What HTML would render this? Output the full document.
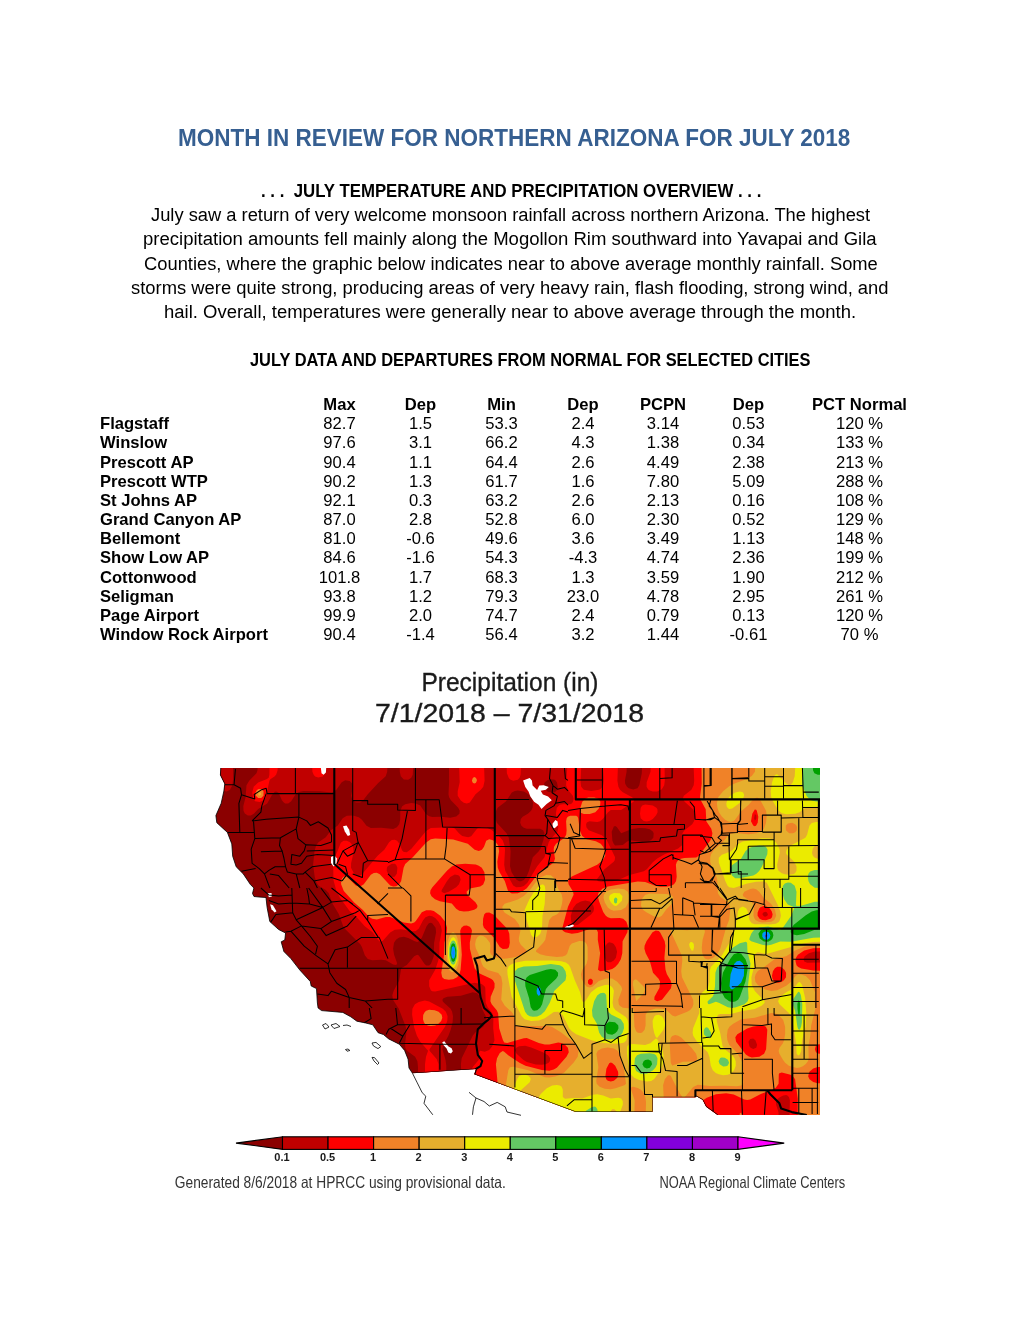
<!DOCTYPE html>
<html lang="en"><head><meta charset="utf-8"><title>Month in Review for Northern Arizona for July 2018</title>
<style>
html,body{margin:0;padding:0;background:#fff;}
#page{position:relative;width:1020px;height:1320px;overflow:hidden;background:#fff;font-family:"Liberation Sans",sans-serif;color:#000;}
.ln{position:absolute;white-space:pre;line-height:1;transform-origin:0 0;}
table.d{position:absolute;left:96px;top:395.1px;table-layout:fixed;width:827.5px;border-collapse:collapse;font-family:"Liberation Sans",sans-serif;font-size:16.6px;line-height:19.17px;}
table.d td,table.d th{padding:0;text-align:center;font-weight:normal;white-space:nowrap;height:19.17px;}
table.d th{font-weight:bold;}
table.d td.n{text-align:left;font-weight:bold;padding-left:4px;}
#mapsvg{position:absolute;left:0;top:660px;}
</style></head>
<body>
<div id="page">
<div class="ln" id="t0" style="left:177.6px;top:125.9px;font-size:24px;font-weight:bold;color:#365F91;transform:scaleX(0.9378)">MONTH IN REVIEW FOR NORTHERN ARIZONA FOR JULY 2018</div>
<div class="ln" id="t1" style="left:260.6px;top:182.0px;font-size:18px;font-weight:bold;color:#000;transform:scaleX(0.9334)">. . .  JULY TEMPERATURE AND PRECIPITATION OVERVIEW . . .</div>
<div class="ln" id="t2" style="left:150.6px;top:205.7px;font-size:18px;font-weight:normal;color:#000;transform:scaleX(1.0171)">July saw a return of very welcome monsoon rainfall across northern Arizona. The highest</div>
<div class="ln" id="t3" style="left:143.2px;top:230.1px;font-size:18px;font-weight:normal;color:#000;transform:scaleX(1.0293)">precipitation amounts fell mainly along the Mogollon Rim southward into Yavapai and Gila</div>
<div class="ln" id="t4" style="left:143.8px;top:254.5px;font-size:18px;font-weight:normal;color:#000;transform:scaleX(1.0186)">Counties, where the graphic below indicates near to above average monthly rainfall. Some</div>
<div class="ln" id="t5" style="left:131.2px;top:278.9px;font-size:18px;font-weight:normal;color:#000;transform:scaleX(1.0218)">storms were quite strong, producing areas of very heavy rain, flash flooding, strong wind, and</div>
<div class="ln" id="t6" style="left:164.4px;top:303.2px;font-size:18px;font-weight:normal;color:#000;transform:scaleX(1.0263)">hail. Overall, temperatures were generally near to above average through the month.</div>
<div class="ln" id="t7" style="left:250.4px;top:350.8px;font-size:18px;font-weight:bold;color:#000;transform:scaleX(0.9108)">JULY DATA AND DEPARTURES FROM NORMAL FOR SELECTED CITIES</div>
<table class="d"><colgroup><col style="width:203.5px"><col style="width:80.0px"><col style="width:82.0px"><col style="width:80.0px"><col style="width:83.0px"><col style="width:77.0px"><col style="width:94.0px"><col style="width:128.0px"></colgroup>
<tr><th></th><th>Max</th><th>Dep</th><th>Min</th><th>Dep</th><th>PCPN</th><th>Dep</th><th>PCT Normal</th></tr>
<tr><td class="n">Flagstaff</td><td>82.7</td><td>1.5</td><td>53.3</td><td>2.4</td><td>3.14</td><td>0.53</td><td>120 %</td></tr>
<tr><td class="n">Winslow</td><td>97.6</td><td>3.1</td><td>66.2</td><td>4.3</td><td>1.38</td><td>0.34</td><td>133 %</td></tr>
<tr><td class="n">Prescott AP</td><td>90.4</td><td>1.1</td><td>64.4</td><td>2.6</td><td>4.49</td><td>2.38</td><td>213 %</td></tr>
<tr><td class="n">Prescott WTP</td><td>90.2</td><td>1.3</td><td>61.7</td><td>1.6</td><td>7.80</td><td>5.09</td><td>288 %</td></tr>
<tr><td class="n">St Johns AP</td><td>92.1</td><td>0.3</td><td>63.2</td><td>2.6</td><td>2.13</td><td>0.16</td><td>108 %</td></tr>
<tr><td class="n">Grand Canyon AP</td><td>87.0</td><td>2.8</td><td>52.8</td><td>6.0</td><td>2.30</td><td>0.52</td><td>129 %</td></tr>
<tr><td class="n">Bellemont</td><td>81.0</td><td>-0.6</td><td>49.6</td><td>3.6</td><td>3.49</td><td>1.13</td><td>148 %</td></tr>
<tr><td class="n">Show Low AP</td><td>84.6</td><td>-1.6</td><td>54.3</td><td>-4.3</td><td>4.74</td><td>2.36</td><td>199 %</td></tr>
<tr><td class="n">Cottonwood</td><td>101.8</td><td>1.7</td><td>68.3</td><td>1.3</td><td>3.59</td><td>1.90</td><td>212 %</td></tr>
<tr><td class="n">Seligman</td><td>93.8</td><td>1.2</td><td>79.3</td><td>23.0</td><td>4.78</td><td>2.95</td><td>261 %</td></tr>
<tr><td class="n">Page Airport</td><td>99.9</td><td>2.0</td><td>74.7</td><td>2.4</td><td>0.79</td><td>0.13</td><td>120 %</td></tr>
<tr><td class="n">Window Rock Airport</td><td>90.4</td><td>-1.4</td><td>56.4</td><td>3.2</td><td>1.44</td><td>-0.61</td><td>70 %</td></tr>
</table>
<svg id="mapsvg" width="1020" height="560" viewBox="0 660 1020 560">
<defs><clipPath id="land"><path d="M220.8,768.0 220.4,775.0 224.8,783.9 223.9,791.0 221.2,803.3 215.9,815.6 216.8,822.7 227.4,832.4 231.8,843.9 232.7,856.2 236.2,866.8 243.3,873.9 250.4,884.5 253.9,888.0 252.5,893.5 254.0,896.5 259.0,897.0 266.0,897.5 267.1,907.4 269.8,921.5 278.6,929.5 285.6,933.0 284.8,940.0 281.2,941.8 283.9,951.5 290.9,958.6 299.8,970.0 310.3,981.5 311.2,986.0 316.5,988.6 317.4,1003.0 318.1,1008.0 321.6,1010.6 342.8,1012.4 350.8,1016.8 356.9,1021.2 365.8,1023.0 372.8,1024.8 378.1,1032.7 383.4,1034.5 388.7,1038.9 399.3,1044.2 404.6,1050.4 408.1,1059.2 409.0,1068.0 412.5,1073.3 476.0,1068.9 474.3,1074.3 575.3,1111.7 630.0,1111.7 652.5,1111.7 652.5,1097.2 695.4,1097.2 696.5,1096.2 702.6,1099.8 706.2,1106.8 717.6,1115.0 820.0,1115.0 820.0,768.0z"/></clipPath></defs>
<g clip-path="url(#land)">
<rect x="208" y="768" width="612" height="348" fill="#8b0000"/>
<path fill="#c00000" d="M226.8,791.6 222.2,790.8 220.8,789.4 219.2,786.5 218.7,780.8 219.3,764.2 233.0,764.2 233.1,779.2 232.4,785.2 230.0,789.8zM250.8,815.6 247.8,815.6 244.8,813.6 243.5,810.8 243.3,806.2 245.6,797.2 246.5,785.2 249.2,780.8 256.5,773.2 257.5,770.2 257.7,764.2 387.5,764.2 387.2,771.8 385.7,776.2 378.2,783.0 367.8,794.3 363.2,800.2 360.2,802.4 355.8,802.5 352.5,800.2 351.2,795.8 352.9,786.8 352.4,783.8 349.8,781.0 345.2,780.3 341.7,782.2 336.2,790.1 331.8,792.4 319.8,791.3 303.2,791.1 298.8,791.9 295.6,794.2 291.2,801.3 288.2,803.4 285.2,803.4 283.8,802.6 281.9,800.2 278.6,792.8 276.2,791.4 274.8,791.8 271.8,795.2 267.2,803.4 258.2,809.0 253.8,813.8zM408.2,779.7 403.8,779.4 400.8,776.2 399.8,771.8 399.6,764.2 413.4,764.2 412.7,774.8 411.2,777.8zM823.8,1120.2 589.8,1120.5 461.5,1119.8 461.6,1077.8 460.9,1064.2 461.7,1058.2 472.8,1035.5 475.8,1031.9 483.2,1026.8 485.0,1023.8 486.3,1019.2 485.8,1016.2 482.0,1008.8 479.0,995.2 477.2,993.3 472.8,992.2 460.8,995.7 447.2,996.8 443.4,998.2 442.4,999.8 442.7,1001.2 444.0,1002.8 450.6,1008.8 452.1,1011.8 453.0,1016.2 452.6,1022.2 450.7,1029.8 448.4,1035.8 443.5,1044.8 442.4,1049.2 445.5,1059.8 446.3,1065.8 446.1,1119.8 417.7,1119.8 418.0,1067.2 417.4,1061.2 415.1,1056.8 407.0,1050.8 405.3,1047.8 405.1,1043.2 406.4,1032.8 405.8,1026.8 398.8,1008.8 393.0,999.8 392.3,995.2 393.7,990.8 399.2,980.4 401.2,968.2 406.8,964.9 414.2,956.2 417.2,954.7 418.8,955.4 424.4,963.8 426.2,965.4 429.2,965.5 431.0,963.8 433.8,956.2 434.1,942.8 436.1,932.2 435.6,927.8 432.2,923.2 430.8,922.7 428.8,923.2 426.6,926.2 421.8,937.7 418.8,941.2 417.2,941.9 414.2,941.1 408.2,937.9 403.8,936.8 399.2,937.5 396.2,939.4 394.0,942.8 393.1,948.8 394.1,954.8 396.8,962.2 397.0,963.8 396.2,965.1 393.2,964.6 385.8,960.3 381.2,959.7 372.2,960.2 367.8,958.9 364.8,955.3 362.0,947.2 360.3,944.2 345.4,929.2 343.2,926.2 338.9,914.2 332.6,903.8 328.8,893.2 325.8,890.0 318.7,885.8 316.5,882.8 314.7,876.8 313.1,864.8 314.5,851.2 316.2,845.2 318.5,842.2 325.8,837.3 330.9,830.2 337.8,825.4 342.7,818.2 346.8,815.8 352.8,815.5 358.8,817.3 361.9,819.8 366.5,825.8 370.8,828.1 381.2,827.8 393.2,828.9 396.9,827.2 399.2,824.2 400.2,819.8 400.3,810.8 402.2,806.3 405.2,804.2 411.2,803.0 415.8,803.5 420.2,805.5 426.2,814.2 429.2,816.3 432.2,817.0 441.2,816.8 450.2,817.7 456.2,816.6 459.4,813.8 459.7,810.8 458.2,807.8 450.9,800.2 449.1,797.2 448.5,794.2 449.1,782.2 449.0,764.2 626.8,764.2 626.6,771.8 624.9,780.8 625.2,783.8 626.9,786.8 628.7,788.2 633.2,789.6 637.5,788.2 639.3,785.2 641.8,773.2 642.1,764.2 823.8,763.5 824.5,764.2 824.6,918.8 823.9,956.2 824.2,1119.8zM553.0,792.8 555.2,792.1 557.2,789.8 557.8,786.8 556.9,782.2 555.2,780.1 553.8,779.4 550.8,779.2 547.8,780.0 544.8,782.2 544.1,783.8 544.2,788.2 547.8,791.8zM521.0,881.2 523.8,880.1 526.5,876.8 529.0,870.8 532.8,857.3 538.8,851.2 540.7,848.2 543.6,839.2 544.4,833.2 543.1,830.2 540.2,828.7 526.8,828.8 523.8,827.8 521.4,825.8 520.2,822.8 520.8,819.1 522.7,816.8 528.2,813.5 531.1,810.8 532.6,807.8 533.0,803.2 532.0,798.8 528.2,794.0 523.8,791.4 517.8,790.5 514.8,790.9 511.8,792.5 505.8,801.4 497.6,807.8 495.4,812.2 494.9,816.8 496.8,822.8 506.5,833.2 508.8,837.8 510.6,851.2 510.0,866.2 511.6,872.2 516.2,879.5 519.2,881.2zM619.2,845.2 622.8,844.9 627.2,841.5 630.2,840.3 642.2,842.1 648.2,841.6 651.2,840.1 653.3,837.8 653.7,833.2 652.8,831.4 649.8,829.3 645.2,828.2 639.2,827.9 631.8,828.9 621.2,833.3 616.8,826.9 615.2,825.9 613.8,826.4 611.7,831.8 612.4,840.8 613.8,844.0 615.2,845.5z"/>
<path fill="#ff0000" d="M259.8,801.9 255.2,801.3 253.3,798.8 252.2,792.8 253.7,786.8 258.2,782.5 266.5,779.2 268.7,777.8 269.4,774.8 269.6,764.2 277.7,764.2 277.6,770.2 276.2,774.5 274.8,776.3 270.3,779.2 269.4,780.8 265.9,797.2 263.5,800.2zM322.8,776.5 318.2,777.4 315.2,776.4 313.8,775.0 312.4,771.8 312.2,764.2 324.6,764.2 324.4,773.2zM466.8,803.5 463.8,802.7 460.8,800.6 457.7,795.8 457.7,791.2 459.7,782.2 459.1,764.2 484.0,764.2 484.6,780.8 483.3,786.8 480.8,789.8 475.5,794.2 469.8,802.4zM517.8,779.7 513.2,780.7 510.2,779.6 508.8,778.1 506.9,773.2 506.5,764.2 521.1,764.2 520.6,774.8 519.6,777.8zM823.8,1120.0 789.4,1119.8 789.9,1100.2 789.0,1097.2 787.8,1095.7 786.2,1095.0 783.2,1095.4 779.8,1097.2 777.2,1099.4 775.9,1101.8 776.1,1104.8 778.5,1112.2 778.7,1119.8 591.2,1120.3 470.7,1119.8 470.5,1077.8 471.4,1070.2 472.8,1066.9 478.8,1059.8 479.2,1052.2 480.1,1050.8 484.8,1051.7 489.2,1050.0 492.3,1046.2 494.5,1040.2 493.2,1028.2 493.4,1016.2 492.3,1013.2 487.7,1007.2 485.7,1002.8 485.3,987.8 484.5,986.2 481.8,984.1 474.2,982.8 435.2,991.4 432.2,991.3 430.8,990.2 429.2,986.2 429.2,980.2 435.2,969.7 438.2,960.8 439.4,954.8 439.5,942.8 441.8,930.8 441.0,926.2 438.6,921.8 435.2,918.0 432.2,916.2 429.2,915.7 425.5,917.2 423.1,920.2 418.8,928.6 415.8,931.0 412.8,931.3 400.8,929.3 394.8,929.8 390.2,932.4 382.8,940.7 381.2,941.5 379.8,941.4 378.2,940.1 372.5,932.2 364.8,926.2 357.2,917.7 349.8,911.3 339.9,897.8 336.2,890.2 333.4,879.8 333.2,861.8 333.8,858.8 337.5,851.2 340.8,842.7 343.6,840.8 346.8,840.7 350.0,842.2 352.4,845.2 353.3,848.2 353.5,852.8 351.1,863.2 351.0,867.8 354.2,873.7 357.2,876.1 358.8,876.4 361.8,874.6 377.6,855.8 384.3,849.8 389.1,842.2 391.8,840.1 394.8,839.7 397.1,840.8 399.2,843.6 402.2,850.5 403.8,852.0 406.8,852.3 411.2,849.1 426.2,830.9 430.8,828.0 451.9,827.2 454.8,828.4 459.2,833.6 462.2,835.9 468.2,837.2 471.2,836.2 477.2,828.4 481.8,826.9 486.2,827.3 490.8,829.6 498.2,835.2 502.8,840.6 504.4,845.2 505.0,849.8 504.2,864.8 505.2,870.8 513.2,885.4 516.2,887.3 520.8,887.1 523.8,885.9 527.4,882.8 537.2,866.2 544.5,857.2 548.7,842.2 550.8,839.1 557.5,831.8 558.3,827.2 555.9,813.8 556.8,807.7 559.8,804.8 562.8,804.2 570.2,804.2 571.8,803.5 573.0,801.8 573.6,798.8 572.8,795.8 567.9,789.8 566.1,785.2 567.5,764.2 581.3,764.2 580.6,782.2 581.2,786.8 583.8,789.8 591.2,791.1 599.2,789.8 601.4,788.2 603.2,785.2 603.8,780.8 602.8,764.2 618.0,764.2 617.4,780.8 618.4,786.8 620.0,789.8 622.8,792.2 632.1,797.2 633.6,798.8 634.1,800.2 633.5,801.8 621.2,810.1 610.8,810.1 607.8,812.5 603.2,818.5 600.2,821.2 597.2,822.0 589.5,821.2 586.8,822.6 586.1,824.2 586.4,827.2 588.7,830.2 601.8,835.3 606.2,839.1 615.1,857.2 614.7,860.2 613.7,861.8 604.5,869.2 596.5,879.8 598.4,881.2 601.8,881.7 613.0,881.2 618.9,879.8 628.8,875.3 643.8,871.3 646.8,869.2 652.8,862.2 657.2,858.5 664.7,854.2 678.2,848.5 682.0,845.2 682.8,842.2 682.1,836.2 682.5,833.2 684.5,830.2 692.2,824.2 694.0,821.2 694.9,818.2 695.0,813.8 693.2,809.4 684.7,801.8 682.8,798.8 683.8,795.8 691.4,789.8 693.7,785.2 694.2,780.8 693.5,764.2 823.8,763.6 824.4,764.2 824.4,918.8 823.8,951.4 814.8,951.6 808.9,953.2 804.7,956.2 803.5,959.2 804.2,961.4 807.2,962.8 823.8,962.5zM657.2,791.4 652.8,791.4 649.8,790.4 648.2,789.4 646.6,786.8 646.7,782.2 650.5,771.8 650.8,764.2 664.5,764.2 664.8,780.8 664.2,785.2 661.8,789.2zM646.8,821.4 643.8,820.9 640.7,818.2 640.0,813.8 640.7,807.8 642.2,805.6 645.2,804.6 652.8,805.5 656.4,807.8 657.4,809.2 657.6,812.2 656.1,815.2 652.8,818.9 649.8,820.7zM755.7,819.8 756.4,818.2 756.3,815.2 754.8,813.9 754.1,818.2 754.8,820.5zM394.6,876.8 396.8,873.8 397.4,867.8 396.1,864.8 394.8,863.8 391.8,863.7 387.7,866.2 386.9,867.8 386.7,870.8 388.0,873.8 390.2,876.2 391.8,877.0zM448.7,891.8 456.2,887.3 459.0,884.2 460.6,879.8 459.9,876.8 458.4,875.2 454.8,874.6 450.2,877.1 446.9,881.2 441.6,890.2 441.6,891.8 444.2,893.2zM578.0,924.8 591.3,914.2 593.6,911.2 594.0,908.2 593.2,905.2 589.8,901.5 585.2,900.5 580.8,901.4 576.2,904.0 573.0,908.2 570.8,915.8 571.2,921.8 573.2,924.7 574.8,925.2zM767.4,915.8 767.9,914.2 766.8,912.3 765.2,911.7 763.0,912.8 762.4,914.2 763.8,916.3 765.2,916.7zM610.8,962.2 613.8,960.6 615.9,957.8 617.1,951.8 615.9,947.2 613.8,944.1 612.2,942.9 609.2,942.3 607.8,942.9 605.4,945.8 604.6,948.8 604.4,954.8 604.8,957.8 606.2,961.1 607.8,962.2zM436.8,1119.8 425.1,1119.8 425.0,1064.2 426.0,1056.8 428.1,1050.8 420.3,1041.8 416.9,1035.8 414.2,1027.6 412.1,1014.8 412.4,1008.8 414.9,1004.2 418.8,1002.0 424.8,1000.5 429.2,1001.4 442.8,1008.8 445.9,1011.8 447.6,1016.2 447.3,1020.8 445.0,1026.8 429.5,1049.2 429.5,1050.8 436.8,1059.2 438.5,1064.2 438.1,1119.8zM756.3,1047.8 757.1,1044.8 755.4,1040.2 753.2,1038.5 750.2,1039.1 748.5,1041.8 749.4,1046.2 750.6,1047.8 753.2,1049.0zM545.7,1064.2 548.6,1062.8 549.8,1061.2 550.2,1058.2 548.0,1055.2 542.9,1052.2 531.2,1047.4 525.2,1045.8 519.2,1046.3 516.3,1047.8 515.1,1049.2 515.0,1050.8 516.6,1053.8 523.2,1059.8 526.8,1061.9 535.8,1064.4 541.8,1064.8z"/>
<path fill="#f08228" d="M823.8,1119.8 797.7,1119.8 797.8,1098.8 795.1,1079.2 792.9,1076.2 790.6,1074.8 781.8,1072.6 779.3,1073.2 778.8,1074.2 778.6,1083.8 775.8,1087.7 772.3,1089.8 760.8,1094.0 750.2,1099.4 747.2,1099.9 744.2,1099.5 733.8,1094.5 726.2,1093.2 716.0,1094.2 706.8,1097.7 703.1,1100.2 700.8,1104.5 700.0,1109.2 699.8,1119.8 497.7,1119.8 497.4,1080.8 495.9,1064.2 497.0,1058.2 499.8,1053.0 502.8,1051.0 504.2,1051.7 508.2,1055.2 519.5,1062.8 525.5,1065.8 541.8,1070.1 549.2,1070.7 553.8,1069.5 556.8,1067.7 566.5,1056.8 568.8,1052.2 567.9,1047.8 565.0,1044.8 561.2,1042.9 558.2,1042.5 549.2,1044.5 544.8,1044.5 538.8,1043.1 526.8,1038.0 523.8,1038.3 507.2,1043.1 504.2,1042.6 502.8,1039.8 499.2,1028.2 498.1,1013.2 496.7,1010.2 491.7,1004.2 490.4,1001.2 490.7,996.8 494.5,987.8 494.6,983.2 493.0,980.2 491.0,978.8 478.0,972.8 474.6,968.2 469.9,948.8 469.8,942.8 472.0,930.8 471.2,928.4 469.8,926.8 466.8,925.5 463.8,925.8 461.4,927.8 460.2,930.8 461.8,954.8 460.6,969.8 459.4,974.2 457.1,977.2 453.2,979.3 448.8,979.7 444.2,979.0 442.2,977.2 441.3,972.8 443.9,956.2 444.4,942.8 446.8,932.2 447.1,927.8 445.2,921.8 440.3,915.8 433.8,911.0 430.8,910.2 426.2,910.3 421.8,912.3 415.8,921.0 414.2,922.4 411.2,923.5 403.8,922.4 390.2,916.9 385.8,917.0 376.8,919.5 372.2,918.8 369.2,916.9 362.6,909.8 354.2,902.5 343.8,890.9 341.1,884.2 341.1,881.2 342.2,878.2 343.8,876.6 346.8,876.6 355.8,885.5 360.2,886.4 363.8,884.2 370.8,874.7 373.8,872.9 376.8,872.7 379.8,874.3 390.2,885.4 393.2,886.5 396.2,886.2 399.2,884.3 401.1,881.2 403.6,867.8 405.2,864.1 412.8,857.3 426.2,842.5 430.8,839.2 435.2,838.4 453.2,839.5 467.8,843.8 474.7,849.8 478.8,851.0 481.9,849.8 484.0,846.8 486.2,840.7 489.2,839.3 492.2,839.9 495.2,841.6 498.2,845.5 499.1,851.2 497.3,861.8 497.8,867.8 499.6,872.2 504.9,881.2 507.8,890.2 508.9,891.8 511.8,893.4 517.8,893.2 522.2,891.4 526.8,888.3 538.8,872.7 543.2,869.1 550.9,864.8 553.8,862.1 555.0,858.8 553.7,849.8 554.1,846.8 556.1,843.8 564.2,838.1 566.2,834.8 566.6,830.2 566.1,821.2 566.7,818.2 567.8,816.8 570.2,815.7 576.2,815.8 577.6,816.8 578.2,818.2 579.8,830.2 582.2,835.9 586.6,839.2 595.8,841.2 600.7,843.8 603.1,846.8 604.5,849.8 605.3,855.8 602.8,860.2 597.2,864.7 571.8,876.4 568.8,879.1 568.1,881.2 568.6,884.2 573.1,891.8 573.6,894.8 568.0,906.8 562.0,929.2 562.9,930.8 565.2,932.2 571.8,933.7 577.8,933.0 591.2,928.5 594.2,928.4 596.5,929.2 597.9,932.2 597.8,939.8 600.1,953.2 598.0,969.8 600.2,971.3 607.8,970.3 612.2,968.9 615.2,967.1 618.2,963.8 620.8,959.2 622.3,953.2 622.6,941.2 627.4,932.2 627.9,926.2 626.4,921.8 623.2,918.8 619.8,918.1 610.8,918.2 607.8,917.3 605.8,915.8 603.2,911.9 598.9,900.8 597.8,896.2 598.3,893.2 602.3,888.8 607.8,886.4 637.8,881.6 645.2,881.9 655.2,885.8 660.2,886.8 666.2,886.8 671.3,885.8 674.0,884.2 676.0,881.2 676.7,876.8 675.9,864.8 676.8,861.9 678.2,860.2 680.8,858.8 684.2,857.9 696.2,857.5 699.2,855.5 710.1,840.8 711.6,837.8 712.4,833.2 711.3,828.8 706.3,821.2 705.7,809.2 700.8,800.2 700.0,797.2 701.7,783.8 701.5,764.2 823.8,763.7 824.3,764.2 824.3,918.8 823.8,947.9 813.2,948.2 804.2,950.5 797.9,954.8 796.0,957.8 795.4,960.8 796.5,965.2 798.2,967.0 801.2,968.6 813.2,970.5 823.8,970.9 823.8,1044.0 817.8,1044.4 815.7,1046.2 814.9,1049.2 816.0,1052.2 817.8,1053.5 823.8,1053.9 823.8,1067.0 817.8,1067.1 813.2,1068.5 809.4,1071.8 808.1,1076.2 809.5,1079.2 813.2,1082.0 817.8,1083.2 823.8,1083.3zM475.8,783.1 474.2,783.6 472.8,782.8 471.9,780.8 472.8,778.1 474.2,777.1 475.8,777.8 476.7,779.2 476.9,780.8zM261.2,798.0 258.2,798.1 255.8,795.8 255.5,792.8 256.8,790.3 258.2,789.2 261.2,789.0 263.5,791.2 263.5,795.8zM589.8,813.9 583.8,814.0 580.8,812.7 580.4,807.8 582.3,801.8 585.2,798.8 588.2,797.6 594.2,797.5 598.4,798.8 600.4,801.8 600.2,804.8 598.8,808.4 595.3,812.2zM756.0,825.8 757.7,822.8 758.3,816.8 756.8,810.8 756.2,809.8 754.8,809.4 752.3,813.8 751.0,821.2 753.2,825.5 754.8,826.3zM468.5,911.2 474.2,909.7 476.7,908.2 477.4,906.8 477.3,905.2 475.4,902.2 467.1,894.8 466.6,891.8 469.8,888.4 480.2,886.4 483.2,884.4 485.1,879.8 484.4,872.2 481.8,867.7 478.8,865.7 475.8,864.6 465.2,863.7 456.2,864.4 451.8,866.4 447.2,870.5 432.4,887.2 430.5,890.2 430.1,893.2 431.5,896.2 435.0,899.2 439.8,901.2 451.8,903.6 456.2,908.7 459.2,910.7 463.8,911.6zM765.8,920.2 770.6,918.8 772.0,917.2 772.6,914.2 771.7,911.2 769.8,908.5 766.8,906.5 763.8,905.9 760.8,907.0 759.2,908.6 757.6,912.8 757.6,915.8 759.6,918.8 762.2,919.9zM507.2,948.8 508.9,947.2 509.8,942.8 509.3,933.8 507.7,929.2 493.8,914.7 489.2,912.5 486.0,912.8 484.3,914.2 483.1,918.8 482.9,924.8 483.9,927.8 493.8,937.5 499.8,947.1 502.8,948.9zM662.0,999.8 670.8,988.5 671.7,984.8 670.8,980.8 666.9,974.2 665.5,969.8 664.4,957.8 665.4,945.8 664.7,941.2 660.2,932.5 658.8,931.1 655.8,930.4 652.5,932.2 646.5,941.2 644.6,945.8 644.4,948.8 645.7,953.2 649.8,961.0 653.0,972.8 658.6,978.8 660.1,981.8 659.5,987.8 654.5,996.8 654.3,999.8 657.2,1001.2zM781.8,981.8 783.9,980.2 786.0,977.2 786.1,972.8 784.4,969.8 781.8,967.4 780.2,966.8 777.2,966.7 774.9,968.2 772.9,971.2 772.0,975.8 772.5,978.8 774.2,981.5 775.8,982.4 778.8,982.7zM591.3,984.8 592.7,983.2 592.8,980.2 591.2,978.7 589.8,978.8 588.1,980.2 587.9,983.2 589.8,984.9zM435.2,1025.5 430.8,1026.1 427.8,1025.6 424.9,1023.8 423.9,1022.2 423.0,1019.2 423.2,1015.1 424.8,1012.0 426.2,1010.7 429.2,1009.7 434.7,1010.2 438.6,1011.8 441.7,1014.8 442.3,1017.8 441.2,1021.1 438.2,1024.1zM759.4,1056.8 764.1,1053.8 766.1,1049.2 767.3,1029.8 765.9,1026.8 763.8,1025.7 760.8,1025.4 753.2,1026.4 747.2,1028.5 737.3,1034.2 735.3,1037.2 736.1,1041.8 745.8,1054.4 748.8,1056.5 751.8,1057.4zM613.9,1080.8 617.3,1077.8 618.3,1074.8 618.1,1071.8 615.2,1065.7 612.2,1062.9 610.8,1062.4 609.2,1063.3 606.4,1068.8 605.4,1076.2 606.2,1079.2 607.8,1080.8 610.8,1081.5zM741.2,1119.8 739.5,1119.8 739.7,1113.8 741.2,1112.6 742.0,1115.2 742.0,1119.8z"/>
<path fill="#e6af2d" d="M663.2,1119.8 645.6,1119.8 646.0,1101.8 645.0,1095.8 643.6,1092.8 640.9,1089.8 637.8,1087.9 633.2,1086.7 631.8,1086.9 630.6,1088.2 634.7,1100.2 634.3,1119.8 505.3,1119.8 505.6,1086.8 508.3,1070.2 509.9,1067.2 513.2,1066.7 528.3,1070.2 544.8,1077.3 549.2,1077.4 555.2,1076.5 560.4,1074.8 564.2,1072.5 573.5,1062.8 577.7,1056.8 578.6,1050.8 577.0,1046.2 573.0,1041.8 561.2,1032.4 552.2,1027.0 547.8,1026.1 517.8,1026.1 515.5,1025.2 514.8,1018.8 513.2,1014.1 511.5,1011.8 504.8,1005.8 501.2,999.8 502.4,983.2 501.2,976.8 498.2,973.1 487.8,970.1 483.4,966.8 481.8,963.8 479.6,956.2 475.8,948.3 475.1,944.2 475.9,939.8 477.7,936.8 480.2,935.5 483.2,936.1 486.2,937.9 489.9,942.8 490.4,945.8 490.0,951.8 490.8,954.2 493.4,956.2 498.2,957.9 504.2,958.7 511.8,957.8 518.7,956.2 525.7,953.2 526.9,951.8 526.3,950.2 520.8,944.8 519.0,941.2 518.8,938.2 520.4,930.8 519.1,924.8 514.8,918.9 504.7,912.8 502.8,909.8 502.3,906.8 504.6,903.8 517.8,899.5 523.8,896.0 529.8,890.3 537.2,880.2 540.2,877.4 546.2,875.0 550.8,875.3 554.4,878.2 558.2,888.7 561.8,894.8 562.6,899.2 562.0,903.8 560.3,909.8 558.7,912.8 556.8,914.4 552.2,916.4 549.2,920.1 545.3,939.8 543.2,942.8 536.2,950.2 536.0,951.8 540.2,954.3 546.2,955.8 556.8,957.0 562.8,956.6 565.8,955.3 567.2,953.6 569.8,945.8 571.8,943.5 579.2,941.1 583.2,941.2 585.2,942.3 586.7,944.2 587.6,947.2 587.7,959.2 586.6,963.8 582.2,969.9 581.0,974.2 581.7,978.8 583.8,983.2 586.8,986.7 589.8,987.5 592.8,986.5 598.8,980.9 606.2,978.4 612.2,978.6 617.2,981.8 621.2,986.2 622.2,989.2 618.3,999.8 618.8,1004.2 619.8,1005.8 622.8,1007.7 633.6,1008.8 634.5,1026.8 636.1,1031.2 637.8,1032.7 640.8,1033.1 642.2,1032.5 644.6,1029.8 645.6,1025.2 645.6,1014.8 647.5,1011.8 649.8,1010.2 655.8,1008.6 663.2,1008.8 666.7,1010.2 672.2,1015.5 675.2,1016.6 687.2,1011.8 690.2,1009.9 692.4,1007.2 693.4,1004.2 693.2,1000.1 682.0,977.2 681.2,971.2 682.3,960.8 682.1,956.2 671.8,933.8 671.0,930.8 671.5,929.2 673.8,928.0 675.2,928.0 682.8,930.0 687.2,930.3 700.8,928.6 703.8,928.9 704.9,930.8 704.8,932.2 702.6,939.8 701.8,947.2 702.0,951.8 703.3,956.2 705.2,958.8 708.2,959.6 712.8,958.0 716.9,954.8 720.3,948.8 725.6,929.2 729.2,919.4 730.2,909.8 729.5,905.2 727.9,902.2 720.2,896.8 717.9,893.2 717.2,879.6 715.8,875.0 711.5,866.2 710.2,861.8 710.3,857.2 711.1,854.2 714.2,849.4 722.7,842.2 727.8,836.0 730.8,833.7 735.2,833.1 748.8,834.2 756.5,833.2 760.8,831.5 763.8,828.9 766.0,822.8 766.7,815.2 766.0,810.8 760.8,801.0 757.8,797.8 756.2,797.7 753.2,799.5 748.7,804.8 741.2,811.2 735.2,819.5 733.8,820.9 730.8,822.1 727.8,821.3 724.8,819.4 721.8,816.6 718.9,812.2 717.4,807.8 716.9,803.2 718.2,797.2 723.1,791.2 729.2,786.3 735.2,783.2 746.3,779.2 751.8,776.0 754.9,771.8 755.4,764.2 823.8,763.8 823.8,944.9 813.2,945.1 804.2,946.8 795.7,950.2 786.2,956.3 778.8,957.7 774.4,959.2 765.2,966.3 757.8,971.1 755.7,974.2 754.8,977.6 755.4,981.8 757.8,985.0 765.2,989.4 771.2,991.1 777.2,990.2 786.2,985.8 790.8,982.1 795.7,975.8 798.2,974.3 801.2,974.4 805.8,976.0 810.0,980.2 815.0,992.2 814.6,1001.2 815.4,1008.8 811.2,1025.2 810.3,1035.8 808.4,1046.2 808.7,1058.2 807.9,1061.2 805.8,1064.0 802.8,1066.3 799.8,1067.6 796.8,1067.9 788.9,1065.8 785.1,1062.8 782.9,1059.8 779.4,1053.8 778.6,1050.8 779.6,1047.8 782.9,1043.2 784.1,1040.2 785.1,1034.2 785.1,1026.8 783.2,1020.1 778.5,1014.8 775.0,1013.2 771.2,1013.0 754.8,1017.7 741.2,1019.3 733.2,1023.8 729.4,1026.8 727.7,1029.8 726.9,1035.8 727.4,1040.2 729.2,1044.8 737.7,1053.8 741.9,1061.2 742.8,1065.8 742.3,1074.8 743.3,1082.2 742.8,1084.1 741.2,1085.5 736.8,1086.2 724.8,1085.7 709.8,1086.1 697.8,1084.7 693.2,1087.0 685.8,1095.9 684.2,1097.3 682.8,1097.4 679.8,1093.4 670.8,1075.9 669.2,1074.9 667.8,1075.4 664.8,1079.3 663.1,1085.2 664.0,1103.2 663.8,1119.8zM261.2,794.5 259.8,795.7 258.2,794.9 258.2,792.8 259.8,792.1 261.0,792.8zM793.0,833.2 795.2,832.2 796.8,830.2 797.0,827.2 796.5,825.8 795.2,824.2 792.2,822.8 787.8,823.5 785.7,825.8 785.9,830.2 789.2,833.2zM621.2,910.0 613.8,910.7 610.8,909.8 607.8,907.5 604.8,902.6 603.5,897.8 603.9,894.8 606.1,891.8 610.8,889.4 618.2,888.4 624.2,889.3 627.8,891.8 629.4,896.2 628.5,902.2 625.8,907.2zM771.2,921.8 774.2,920.1 776.2,915.8 775.0,909.8 771.2,904.0 763.6,897.8 759.2,891.7 756.2,889.3 753.2,888.6 750.2,888.9 744.3,891.8 742.7,894.8 743.2,896.2 751.8,902.2 753.2,904.2 753.8,906.8 753.5,915.8 754.6,918.8 755.8,920.2 758.8,921.8 762.2,922.4zM658.8,917.4 654.2,916.6 646.8,912.6 643.8,910.6 641.9,908.2 641.0,905.2 641.4,900.8 642.7,897.8 645.3,894.8 649.8,893.4 666.2,894.1 670.3,894.8 672.5,896.2 673.4,899.2 671.9,903.8 666.2,909.5 661.8,915.8zM454.8,971.5 451.8,972.2 448.9,969.8 447.3,965.2 446.6,957.8 446.6,948.8 447.6,941.2 450.2,934.6 451.8,932.7 453.2,932.0 455.5,933.8 457.5,938.2 459.6,950.2 458.5,963.8 457.0,968.2zM636.2,1001.3 632.9,984.8 633.2,981.1 634.8,979.4 636.2,979.6 637.8,980.7 643.8,986.7 645.0,989.2 643.8,992.9zM676.1,1064.2 682.8,1061.8 694.8,1061.4 696.2,1060.7 697.3,1058.2 696.1,1053.8 691.5,1047.8 681.2,1037.6 678.2,1035.7 675.2,1034.9 672.2,1036.0 670.8,1037.8 669.7,1043.2 670.8,1062.8 672.2,1065.4zM615.5,1088.2 624.4,1085.2 626.0,1083.8 624.1,1070.2 619.8,1054.4 617.7,1050.8 613.8,1048.4 607.8,1047.6 601.8,1048.4 597.8,1050.8 596.4,1053.8 598.4,1067.2 596.2,1080.8 596.7,1083.8 599.6,1086.8 604.8,1088.7 610.8,1089.3zM684.2,1119.8 683.2,1119.8 683.4,1113.8 684.2,1111.5 684.8,1115.2 684.8,1119.8z"/>
<path fill="#ebeb00" d="M795.2,813.8 786.2,814.2 781.8,813.2 778.7,810.8 773.2,801.8 771.2,797.2 770.7,791.2 772.1,782.2 774.2,776.3 775.8,774.5 777.2,774.3 786.2,783.5 789.2,785.2 790.8,784.9 792.8,782.2 794.7,776.2 795.4,764.2 823.8,764.0 823.8,806.7 805.8,807.3 799.6,812.2zM732.2,808.6 729.2,809.1 727.8,808.1 726.6,806.2 726.3,803.2 727.8,798.7 730.8,795.2 735.2,792.5 739.8,791.5 742.8,792.3 744.0,794.2 744.1,795.8 742.8,799.5 739.3,803.2zM727.8,1074.8 723.2,1075.2 718.8,1074.3 715.8,1072.9 712.8,1070.2 710.8,1065.8 709.4,1056.8 707.7,1052.2 697.0,1041.8 693.2,1035.8 692.6,1032.8 693.1,1028.2 699.2,1013.2 699.8,999.8 700.6,995.2 702.2,992.6 706.8,988.8 708.4,986.2 709.4,981.8 709.6,971.2 711.0,966.8 721.4,956.2 732.1,938.2 735.8,926.2 738.0,911.2 739.8,907.9 742.8,906.6 746.2,908.2 747.7,911.2 749.5,920.2 751.8,923.2 754.8,924.3 769.8,924.4 775.8,923.8 778.8,921.9 779.8,920.2 780.9,915.8 780.2,911.2 777.9,905.2 766.8,882.8 763.8,881.5 756.2,881.7 747.2,883.4 733.8,887.9 729.2,887.2 727.6,885.8 725.4,881.2 718.8,862.5 718.8,857.8 721.8,854.8 731.2,851.2 738.2,844.0 742.8,841.6 762.2,838.3 769.8,838.4 772.8,839.6 775.8,842.2 777.8,845.2 779.6,849.8 779.8,852.8 777.1,864.8 777.3,867.8 778.5,870.8 781.8,873.2 784.8,874.2 789.2,874.7 793.8,874.0 795.2,872.9 796.5,870.8 796.5,866.2 794.1,861.8 786.5,854.2 786.0,852.8 786.6,849.8 791.2,845.2 805.4,837.8 807.1,834.8 809.4,825.8 811.8,823.1 816.2,821.9 823.8,821.8 823.8,845.0 817.8,845.1 814.8,846.1 812.9,848.2 812.0,852.8 812.8,855.8 814.8,857.7 817.8,858.7 823.8,858.8 823.8,941.7 813.2,941.9 804.2,943.3 768.2,953.5 765.2,953.7 757.8,952.2 755.6,953.2 754.5,956.2 754.4,965.2 751.4,977.2 751.7,984.8 754.8,991.0 763.2,999.8 764.5,1001.2 764.7,1002.8 761.6,1005.8 754.8,1009.1 741.2,1011.3 730.8,1014.0 720.2,1014.0 718.2,1014.8 716.5,1017.8 717.0,1022.2 720.2,1033.0 722.6,1046.2 724.8,1049.2 732.3,1055.2 734.5,1058.2 735.7,1061.2 735.8,1065.8 734.0,1070.2 730.8,1073.5zM537.2,936.8 534.2,937.3 532.7,936.8 531.2,935.0 525.4,915.8 524.7,909.8 529.4,899.2 534.2,891.8 538.8,886.2 541.8,884.5 543.2,884.6 544.8,886.0 545.4,890.2 544.7,903.8 542.5,915.8 542.0,927.8 540.3,933.8zM616.8,905.8 615.2,906.0 613.6,905.2 610.8,902.2 609.2,899.2 609.3,896.2 610.3,894.8 613.8,892.9 619.7,893.2 622.5,896.2 621.9,900.8zM454.8,967.1 453.2,967.9 451.8,967.6 450.2,965.9 448.9,962.2 448.0,956.2 448.1,948.8 449.1,942.8 451.3,938.2 453.2,937.1 454.8,937.9 456.6,941.2 458.3,950.2 457.5,960.8zM693.2,950.6 691.8,950.7 689.7,947.2 689.1,944.2 690.2,942.3 691.8,942.1 693.2,943.0 693.8,944.2 694.0,947.2zM619.8,1043.4 609.2,1043.6 598.8,1042.2 591.5,1040.2 576.2,1034.2 571.9,1031.2 569.1,1028.2 562.8,1015.2 558.2,1011.7 553.8,1011.9 544.8,1018.3 538.8,1020.6 531.2,1021.1 524.6,1019.2 521.7,1016.2 511.6,996.8 507.5,974.2 507.3,969.8 508.4,966.8 510.2,965.0 514.8,962.8 525.2,960.8 552.2,960.5 561.2,961.3 565.8,962.5 568.8,964.7 570.2,967.2 574.8,980.2 580.1,992.2 582.2,1001.2 583.8,1002.1 585.2,1001.2 591.1,992.2 597.2,987.6 604.8,984.9 607.8,984.8 610.8,985.9 612.7,987.8 613.9,990.8 612.6,1002.8 613.4,1007.2 615.6,1010.2 625.8,1016.9 627.3,1019.2 628.5,1023.8 628.5,1031.2 626.4,1040.2 624.2,1042.6zM798.2,1055.4 796.6,1053.8 796.1,1043.2 792.1,1017.8 789.2,1013.2 779.5,1004.2 778.1,1001.2 779.4,998.2 782.1,995.2 786.2,992.2 793.8,988.2 798.2,982.4 799.8,981.9 802.1,984.8 805.2,998.2 806.4,1014.8 805.5,1026.8 802.1,1040.2 801.2,1051.0 799.8,1054.6zM657.2,1038.1 655.8,1037.1 654.2,1033.0 652.9,1026.8 652.6,1020.8 654.4,1016.2 655.8,1015.2 658.8,1014.7 661.8,1016.2 663.2,1018.1 664.9,1022.2 665.1,1025.2 663.2,1030.3zM651.2,1081.0 646.8,1081.4 639.2,1080.0 634.1,1077.8 631.2,1074.8 629.0,1068.8 627.0,1053.8 627.2,1046.8 628.8,1044.6 633.2,1044.1 645.2,1045.1 650.3,1043.2 655.8,1038.5 657.2,1039.1 662.7,1050.8 663.5,1055.2 663.5,1061.2 661.9,1067.2 659.5,1071.8 654.2,1079.0zM516.2,1096.1 514.8,1094.8 514.3,1088.2 515.2,1083.8 517.8,1077.9 519.2,1076.1 522.2,1074.7 525.2,1074.6 528.2,1075.7 530.4,1077.8 530.7,1079.2 529.7,1082.2 521.4,1089.8zM609.2,1119.8 538.3,1119.8 537.4,1103.2 538.0,1098.8 540.5,1094.2 546.8,1088.2 552.2,1085.6 556.8,1085.0 559.8,1085.4 561.7,1086.8 562.8,1089.8 562.8,1097.0 565.0,1098.8 573.2,1098.1 582.2,1098.5 592.8,1094.7 597.2,1094.2 603.2,1095.4 610.8,1098.4 618.2,1097.8 621.2,1098.6 622.8,1101.2 622.8,1104.8 619.8,1112.9 618.2,1113.0 614.3,1109.2 612.2,1109.2 610.8,1111.0 610.1,1119.8z"/>
<path fill="#64c864" d="M823.8,801.6 816.2,801.4 811.8,800.4 809.1,798.8 806.5,795.8 802.2,785.2 802.2,764.2 823.9,764.2zM739.8,878.3 735.2,878.2 731.7,875.2 730.5,869.2 732.2,865.1 741.1,858.8 745.4,851.2 748.6,848.2 752.5,846.8 759.2,845.4 763.8,845.7 765.9,846.8 767.6,849.8 767.3,854.2 762.1,866.2 759.2,871.1 756.4,873.8 753.2,875.4zM823.8,888.4 814.8,887.7 810.1,884.2 808.5,881.2 807.8,876.8 808.4,873.8 810.2,871.4 814.8,870.0 823.8,869.8zM771.2,944.7 766.8,945.4 762.2,944.7 751.2,941.2 749.4,939.8 749.5,938.2 751.2,933.8 753.3,930.8 755.0,929.2 759.2,927.4 768.2,926.6 780.2,930.0 783.2,927.2 791.2,915.8 794.2,908.2 793.2,906.8 787.8,904.4 784.1,899.2 782.5,893.2 782.3,888.8 783.0,885.8 784.8,883.6 787.8,882.5 790.8,882.7 794.7,885.8 796.5,891.8 795.9,905.2 796.8,906.0 801.2,905.8 814.8,901.8 823.8,901.5 823.8,937.3 813.2,937.7 790.8,941.7 780.2,941.4zM616.8,903.0 615.2,903.6 614.1,902.2 613.9,899.2 615.2,897.5 616.8,898.1 617.4,899.2zM454.8,963.8 453.2,964.8 451.5,963.8 450.0,960.8 449.1,954.8 449.2,948.8 450.1,944.2 451.8,941.1 453.2,940.4 454.8,941.3 456.2,944.2 457.3,950.2 456.9,957.8zM735.2,1007.4 730.8,1007.8 727.8,1007.3 718.8,1002.7 715.8,1001.8 709.2,1004.2 708.2,1004.0 707.6,1002.8 707.7,1001.2 712.8,996.5 713.9,993.8 715.0,986.2 715.4,972.8 717.2,967.5 723.2,960.7 729.2,951.4 732.2,948.1 739.8,943.2 745.8,941.8 747.1,942.8 747.5,951.8 750.5,963.8 747.9,986.2 748.6,998.2 747.7,1001.2 744.5,1004.2zM537.2,1016.4 532.8,1016.8 529.8,1016.2 527.3,1014.8 525.1,1011.8 514.8,980.4 514.1,975.8 514.8,971.2 517.8,968.2 523.8,966.5 537.2,966.1 550.8,964.1 559.8,965.3 562.8,967.0 565.5,971.2 566.3,975.8 565.5,980.2 554.4,990.8 549.8,1002.8 544.8,1011.2 541.0,1014.8zM799.8,1029.7 798.2,1029.3 797.4,1026.8 795.2,1011.5 791.8,1001.2 798.2,991.8 799.8,992.4 800.9,995.2 802.3,1004.2 801.9,1022.2 801.2,1026.2zM615.2,1039.0 607.8,1039.6 604.8,1038.7 601.8,1036.8 599.2,1032.8 596.9,1023.8 592.5,1016.2 592.0,1010.2 594.1,1001.2 597.2,995.5 600.2,993.3 603.2,992.8 604.8,993.2 606.2,995.0 606.9,1007.2 608.2,1011.8 611.5,1014.8 620.8,1019.2 623.7,1023.8 624.0,1028.2 622.5,1032.8 619.8,1036.4zM709.8,1038.3 706.8,1037.6 703.9,1034.2 703.8,1029.9 705.2,1027.7 706.8,1027.3 708.2,1028.0 711.1,1032.8 711.2,1037.2zM646.8,1073.7 640.8,1073.7 636.2,1070.9 634.3,1065.8 634.9,1058.2 637.0,1055.2 640.8,1053.8 649.8,1053.2 654.2,1053.9 656.1,1055.2 657.5,1058.2 657.1,1064.2 655.7,1067.2 652.8,1070.6zM726.2,1066.3 723.2,1066.5 719.7,1064.2 718.6,1061.2 720.2,1057.9 721.8,1057.4 724.8,1057.7 727.9,1059.8 729.1,1062.8 727.8,1065.5zM597.2,1119.8 584.2,1119.8 584.4,1113.8 586.0,1110.8 591.2,1107.4 594.2,1106.6 595.8,1106.9 597.2,1109.0 597.6,1110.8 597.8,1119.8z"/>
<path fill="#00a000" d="M823.8,774.9 817.8,774.8 814.4,773.2 813.0,770.2 812.8,764.2 823.8,764.2zM796.8,935.3 792.2,934.2 790.7,932.2 790.8,929.2 793.8,924.8 805.8,915.3 811.8,911.6 816.2,910.2 823.8,910.0 823.8,929.3 814.8,929.8 804.2,933.9zM768.2,941.8 763.8,941.5 759.6,938.2 758.4,933.8 760.8,930.2 763.8,929.0 768.2,929.1 771.2,930.5 772.7,932.2 773.4,935.2 772.6,938.2 771.2,940.0zM454.8,960.8 453.2,961.9 451.8,961.0 450.1,954.8 450.6,947.2 451.8,944.1 453.2,943.2 454.8,944.3 456.3,950.2 456.2,956.2zM735.2,1001.4 732.2,1001.9 729.2,1001.3 724.8,997.9 721.7,992.2 721.1,983.2 722.9,972.8 730.0,959.2 733.8,954.3 738.2,952.7 741.2,953.7 745.5,959.2 747.2,964.3 747.5,969.8 745.4,981.8 739.9,996.8 738.1,999.8zM537.2,1010.3 534.2,1010.8 532.8,1010.3 530.7,1007.2 529.1,998.2 525.4,986.2 525.1,981.8 525.9,978.8 526.8,977.2 529.8,975.1 546.2,969.8 550.8,969.1 555.3,969.8 558.1,972.8 558.0,975.8 556.1,978.8 548.1,986.2 545.8,989.2 542.1,1004.2 540.2,1007.7zM799.8,1014.4 798.2,1014.4 797.5,1008.8 797.4,1004.2 798.2,1000.3 799.8,1001.9 800.1,1004.2zM612.2,1034.7 607.8,1033.9 606.2,1032.3 605.3,1029.8 605.3,1026.8 606.2,1023.9 609.2,1021.7 615.0,1022.2 618.2,1025.3 618.5,1028.2 617.2,1031.2 615.2,1033.2zM649.8,1067.7 646.8,1068.4 644.0,1067.2 642.4,1064.2 643.6,1061.2 645.2,1060.1 648.2,1059.6 651.2,1061.1 652.1,1064.2z"/>
<path fill="#0096ff" d="M766.8,939.9 763.8,938.9 762.3,936.8 762.3,933.8 763.5,932.2 765.2,931.5 768.7,932.2 770.4,935.2 769.6,938.2zM453.2,959.1 451.8,957.5 451.1,953.2 451.8,947.6 453.2,946.0 454.8,947.8 455.4,953.2 454.8,957.3zM733.8,988.6 732.2,989.2 730.8,988.9 729.5,986.2 730.6,974.2 734.3,963.8 736.8,961.2 739.8,960.8 742.8,963.3 744.2,966.8 743.9,975.8 741.2,982.4 738.2,985.5zM538.8,996.1 536.9,993.8 536.6,990.8 537.2,988.2 538.8,986.6 540.2,988.1 540.8,990.8 540.2,994.4z"/>
<path fill="#8200dc" d="M766.8,937.3 765.2,936.8 765.2,935.0 766.8,934.6 767.4,935.2zM453.2,954.9 452.8,953.2 453.2,950.1z"/>
<g fill="#fff" stroke="none">
<path d="M523.1,780.4 529.7,777.9 531.9,780.4 532.6,785.6 537.1,790.0 539.3,785.6 543.7,785.3 548.8,787.1 545.9,789.7 540.7,790.7 542.9,794.4 548.1,796.6 551.8,800.3 546.6,804.0 541.5,809.1 538.5,804.7 534.1,801.8 530.4,796.6 528.5,791.5 525.3,787.1z"/>
<path d="M552.5,823.8 555.4,820.1 557.6,821.6 557.9,825.3 554.7,828.2 552.9,827.5z"/>
<path d="M331.0,857.0 334.5,855.5 337.0,858.5 336.5,864.0 333.5,866.5 331.0,863.0z"/>
<path d="M343.0,826.2 346.5,825.4 349.2,829.8 350.2,835.1 347.8,835.9 344.8,831.5z"/>
<path d="M320.9,768.0 326.2,768.0 325.9,772.4 323.6,774.7 321.5,773.3z"/>
<path d="M442.3,1042.2 444.3,1041.2 448.2,1046.3 451.6,1048.2 452.8,1051.3 451.0,1053.4 448.3,1052.6 446.6,1048.6 443.2,1044.8z"/>
<path d="M267.6,893.3 271.5,892.9 271.9,896.5 268.9,897.2z"/>
<path d="M270.1,904.2 272.9,905.3 276.5,911.3 274.7,912.4 271.5,909.2z"/>
<path d="M563.5,929.0 566.0,926.5 573.0,924.5 574.0,926.0 567.0,929.5z"/>
</g>
<g fill="none" stroke="#000" stroke-width="1.05" stroke-linejoin="round">
<path d="M412.5,1073.3 476.0,1068.9M474.3,1074.3 575.3,1111.7 652.5,1111.7 652.5,1097.2 695.4,1097.2 696.5,1096.2 702.6,1099.8 706.2,1106.8 717.6,1115.0M538.5,891.5 567.9,891.5M554.7,880.4 567.9,880.4M554.7,880.4 554.7,891.5M570.1,838.5 570.1,879.7M570.1,823.8 573.8,832.6 580.4,835.6M235.4,768.9 234.1,784.8 224.8,784.8M234.1,784.8 240.6,788.3 241.5,794.8 254.8,798.9 254.2,794.5 260.9,790.1 266.2,788.3 267.1,793.6M267.1,793.6 334.2,793.6M295.4,768.0 295.4,793.6M298.9,793.6 298.9,816.5M266.2,793.6 261.8,805.9 260.9,812.1 252.1,820.9M252.1,820.9 266.2,819.2 283.9,817.9 298.9,817.1 306.8,820.9 310.4,825.4 318.3,821.8 328.0,828.0 331.5,835.1 331.5,842.1M241.5,794.8 238.9,803.3 239.8,831.9M227.4,832.4 254.2,832.4M253.5,820.9 254.8,838.6 251.2,849.2 252.1,863.3 259.2,868.6 264.5,873.9 269.8,888.0M254.8,838.6 280.4,837.7 296.2,828.9 298.9,817.1M280.4,837.7 279.5,845.6 282.1,850.9 260.9,851.8M296.2,828.9 298.0,838.6 305.9,844.8 304.2,850.9 299.8,856.2 291.8,854.5 290.9,864.2 296.2,865.1M305.9,844.8 320.9,845.6 331.5,842.1M306.8,850.9 334.2,850.1M282.1,850.9 283.9,858.0 285.6,866.8 275.1,866.8 268.9,870.4 264.5,873.9M296.2,865.1 301.5,863.3 306.8,856.2 317.4,854.5 334.2,855.4M285.6,866.8 287.4,872.1 296.2,873.9 303.3,873.9 305.1,872.1 312.1,866.8 331.5,864.2M241.5,871.2 255.6,868.6M269.8,873.9 278.6,875.6 289.2,888.0M296.2,873.9 299.8,888.0M305.1,872.1 313.9,880.9 331.5,877.4 342.1,880.9M313.9,880.9 317.4,888.0M352.7,768.0 352.7,830.6 356.2,832.4 358.0,842.1 367.7,860.6M352.7,800.6 367.7,800.6 367.7,804.2 388.0,804.2M336.8,864.2 343.0,850.9 358.9,842.1M343.0,850.9 347.4,856.2 354.5,852.7 358.0,842.1M342.1,880.9 347.4,873.9 345.6,866.8 338.6,864.2M363.3,863.3 367.7,860.6 388.0,861.5M363.3,863.3 362.4,877.4 352.7,873.9M415.4,768.0 415.4,810.4 397.7,810.0 397.7,804.2 388.0,804.2M415.4,799.8 439.2,799.8 442.7,827.1 494.8,828.0M425.9,799.8 425.9,858.9M447.1,828.0 446.2,845.6 444.5,858.9M407.4,811.2 402.1,838.6 395.1,859.8 388.0,862.4M395.1,859.8 403.9,858.9 444.5,858.9 470.1,874.8 470.1,888.0M470.1,874.8 494.8,874.8M388.0,873.9 402.1,888.0M495.6,799.4 529.2,799.4M495.6,835.6 545.1,835.6 546.8,833.3 547.7,819.2 545.1,815.6 545.9,810.4M495.6,846.5 545.1,846.5 545.9,853.6 550.4,854.5 547.7,866.8 538.0,873.9 537.1,878.3 539.8,888.0M495.6,877.4 536.2,877.4M545.1,835.6 548.6,838.6 560.1,837.7 557.4,847.4 554.8,852.7 545.9,853.6M550.4,768.0 549.5,778.6 553.0,785.6 557.4,789.2 564.5,787.4 568.0,790.9M553.0,785.6 552.1,792.7 557.4,796.2 555.6,803.3 564.5,801.5 568.0,805.1M545.9,810.4 553.9,805.9 555.6,803.3M545.9,815.6 557.4,817.4 562.7,810.4 568.0,812.1M564.5,768.0 565.4,778.6 568.0,780.4M547.7,819.2 553.9,829.8 560.1,837.7 568.0,838.6M550.4,862.4 568.0,863.3M538.0,873.9 546.8,866.8 550.4,862.4M537.1,878.3 555.6,879.2 555.6,888.0M555.6,880.9 568.0,880.9M602.4,768.0 602.4,799.4M576.8,780.0 602.4,780.0M659.8,768.0 659.8,799.4M659.8,778.6 672.1,777.7 672.1,768.0M703.9,768.0 703.9,785.6 710.1,785.6 710.1,768.0M703.9,785.6 703.9,799.4M732.1,768.0 732.1,799.4M732.1,778.6 748.0,777.7M568.0,810.4 580.4,808.6 605.1,805.9 620.9,804.7 628.0,805.9 628.9,810.4M605.1,800.6 605.1,849.2M580.4,808.6 579.5,835.9 568.0,837.7M568.0,838.2 571.5,838.6 575.1,848.3 605.9,849.2 628.9,849.2M571.5,838.6 606.8,838.6M605.9,849.2 602.4,859.8 599.8,866.8 604.2,877.4 605.9,888.0M568.0,879.2 602.4,880.1 628.9,880.1M630.6,824.5 684.5,824.5 684.5,828.9 677.4,829.8 676.5,835.9 660.6,837.7 659.8,841.2 630.6,843.0M630.6,851.8 682.7,851.8 682.7,835.1 702.1,835.1M677.4,800.6 673.9,824.5M689.8,801.5 694.2,806.8 695.1,819.2 705.6,820.1 714.5,817.4 712.7,810.4 709.2,805.9 710.9,799.4M714.5,817.4 721.5,822.7 722.4,833.3 718.0,837.7 721.5,840.4 710.9,850.9 705.6,852.7M702.1,835.1 707.4,843.9 710.9,850.9M672.1,854.5 673.9,858.0 684.5,861.5 691.5,864.2 698.6,859.8 699.5,854.5 705.6,852.7M672.1,854.5 663.3,858.9 649.2,870.4 649.2,880.9 656.2,885.4 666.8,885.4M649.2,874.8 671.2,874.8 671.2,888.0M673.0,854.5 673.0,859.8M698.6,859.8 702.1,866.8 700.4,873.9 703.9,880.9 709.2,881.8 714.5,875.6 712.7,868.6 707.4,864.2 698.6,863.3M714.5,873.9 730.4,873.9 730.4,859.8 738.3,859.8 738.3,873.9 748.0,873.9M721.5,833.3 737.4,832.4 737.4,824.5 748.0,823.6M740.9,799.4 740.1,820.9 737.4,824.5M722.4,845.6 729.5,845.6 729.5,833.3M685.4,882.7 712.7,882.7 718.0,888.0M685.4,882.7 685.4,888.0M711.2,768.0 711.2,785.6 704.1,786.2 704.1,798.8M731.8,768.0 731.8,798.8M731.8,778.6 748.8,778.6 748.8,768.0M748.8,778.6 748.8,780.9 764.7,780.9M764.7,768.0 764.7,798.8M764.7,776.8 783.5,776.8M764.7,786.2 783.5,786.2M783.5,768.0 783.5,798.8M802.4,768.0 803.5,798.8M783.5,785.6 803.5,785.6M803.5,792.1 818.8,792.1M707.1,800.9 715.3,815.1 717.6,817.4 720.6,823.3 721.8,829.2 721.2,835.1 728.8,835.1M700.0,819.8 710.6,819.8 715.3,817.4M740.6,800.4 740.6,819.8 737.6,823.3 737.6,831.5M721.8,823.9 737.6,823.3M737.6,831.5 762.4,831.5 762.4,815.1 781.2,815.1 781.2,832.1 762.4,832.1M777.6,800.4 777.6,815.1M802.4,800.4 802.9,817.4 781.2,818.0M802.9,807.4 818.8,807.4M802.9,817.4 818.8,817.4M798.8,818.0 798.8,845.6M774.1,832.7 774.1,845.6M728.8,835.1 729.4,859.8M729.4,859.8 736.5,849.2 737.6,843.3 737.6,839.8 774.1,839.8M748.2,846.2 818.8,845.6M729.4,859.8 764.1,859.8 764.1,868.6 774.1,868.6 774.1,846.2M748.2,846.2 748.2,859.8M788.8,846.2 788.8,879.2 741.2,879.2 741.2,871.5 731.2,872.7 731.2,859.8M788.8,862.7 818.8,862.7M788.8,876.2 818.8,876.2M700.0,836.2 711.8,837.4 715.3,843.3 707.1,850.4 704.7,852.7 700.0,850.4M715.3,843.3 728.8,843.3M700.0,862.1 707.1,863.3 712.9,868.0 715.3,873.9 711.8,880.9 704.7,882.1 700.0,878.6M714.1,873.9 731.2,872.7M741.2,879.2 741.2,888.0M764.1,879.2 764.1,888.0M780.0,879.2 780.0,888.0M714.1,880.9 718.8,888.0M260.9,888.0 268.9,895.1 278.6,895.9 291.8,895.1M268.9,900.4 278.6,903.9 292.7,903.0M291.8,888.0 292.7,912.7 275.9,914.5 270.6,922.4M292.7,912.7 296.2,919.8 301.5,925.9 290.9,931.2 285.6,932.1M292.7,903.0 309.5,903.9 308.6,896.8 306.8,888.0M309.5,903.9 322.7,907.4 331.5,902.1 347.4,900.4 352.7,903.9M308.6,888.0 322.7,907.4 331.5,921.5 355.4,912.7 359.8,910.1M296.2,919.8 322.7,907.4M301.5,925.9 320.9,928.6 326.2,935.6 347.4,925.9 356.2,916.2M301.5,925.9 310.4,936.5 317.4,946.2 315.6,954.2M290.9,931.2 304.2,946.2 316.5,955.9 328.0,963.9M331.5,921.5 320.9,928.6M328.0,963.9 335.1,949.8 347.4,947.1 361.5,937.4 379.2,937.4 388.0,958.6M347.4,947.1 347.4,967.4M299.8,968.3 388.0,968.3M328.0,963.9 329.8,972.7 336.8,983.3 345.6,989.5 349.2,997.4M317.4,993.9 328.0,995.6 331.5,991.2 349.2,997.4 365.1,1000.9 388.0,999.2M349.2,997.4 349.2,1008.0M365.1,1000.9 372.1,1008.0M359.8,910.1 367.7,920.6 378.3,937.4M367.7,920.6 367.7,915.4 388.0,914.5M347.4,900.4 359.8,910.1M377.4,903.9 388.0,893.3M320.9,888.0 331.5,902.1M331.5,888.0 347.4,900.4M403.0,888.0 410.9,895.9 410.9,921.5M445.4,895.1 469.2,895.1 470.1,888.0M445.4,895.1 445.4,955.1M445.4,933.9 494.8,933.9M388.0,968.3 449.8,968.3M397.7,968.3 397.7,999.2 388.0,999.2M495.6,891.5 539.8,891.5M539.8,888.0 538.0,895.1 532.7,900.4 532.7,910.1M495.6,909.2 509.8,909.2 511.5,911.8 525.6,912.7 525.6,927.7M525.6,911.8 568.0,910.9M535.4,929.5 533.6,947.1 514.2,959.5 514.2,1008.0M515.1,976.2 538.0,985.9 541.5,993.9 555.6,993.9 557.4,1000.1 562.7,1000.9 562.7,1008.0M495.6,953.3 500.9,958.6 506.2,966.5M388.0,888.0 403.0,888.0M568.0,891.5 605.9,891.5M568.0,910.9 590.9,910.9M605.9,888.0 594.5,900.4 585.6,910.9 573.3,923.3 568.0,925.9M630.6,891.5 656.2,891.5M630.6,900.4 650.9,899.5 659.8,903.9 670.4,896.8 668.6,888.0M630.6,908.3 661.5,908.3 672.1,898.6M650.9,927.7 659.8,908.3M672.1,898.6 673.9,928.6M673.9,914.5 693.3,915.4 698.6,927.7M682.7,897.7 682.7,914.5M682.7,897.7 693.3,902.1 695.1,915.4M693.3,903.0 726.8,904.8 719.8,914.5 719.8,927.7M711.8,904.8 711.8,916.2 719.8,916.2M726.8,904.8 733.9,898.6 748.0,900.4M733.9,907.4 735.6,919.8 748.0,914.5M719.8,888.0 726.8,898.6M656.2,888.0 656.2,891.5M583.9,929.5 583.9,1008.0M604.2,929.5 605.1,970.9 609.5,972.7 609.5,1008.0M631.5,961.2 676.5,961.2 676.5,983.3 645.6,984.2 645.6,994.8 631.5,994.8M673.9,929.5 668.6,937.4 668.6,955.1 711.8,955.1M676.5,983.3 680.9,993.9 705.6,993.9 732.1,992.1M688.9,955.1 688.9,961.2 701.2,962.1 701.2,966.5 707.4,966.5 707.4,990.4 719.8,990.4 719.8,965.6M712.7,929.5 711.8,949.8 723.3,960.4 731.2,949.8 733.9,929.5M719.8,965.6 723.3,960.4M719.8,965.6 748.0,965.6M732.1,990.4 732.1,1008.0M680.9,993.9 682.7,1008.0M699.5,995.6 699.5,1008.0M631.5,1005.4 682.7,1006.2M717.6,888.0 727.1,899.8 735.3,896.2 738.8,899.8 755.3,902.1 764.1,904.5 764.7,888.0M764.7,907.4 818.8,907.4M782.4,888.0 782.4,907.4M800.6,888.0 800.6,907.4M764.7,904.5 764.7,907.4M700.0,904.5 726.5,904.5 727.1,899.8M711.2,904.5 711.2,916.2 700.0,916.2M711.2,916.2 719.4,917.4 718.2,928.0M719.4,917.4 727.1,909.2 734.1,908.0 735.3,919.2 749.4,913.9 755.3,902.7M735.3,919.2 735.3,928.0M791.8,908.0 791.8,928.0M712.4,929.2 711.8,951.5 723.5,959.8 729.4,952.1 730.6,937.4 734.1,930.4M729.4,952.1 743.5,952.7 754.1,954.5 755.3,968.0 767.6,968.0 771.8,980.9 781.2,980.9 782.4,958.6 771.8,958.0 765.9,955.1 766.5,929.2M754.1,954.5 765.9,955.1M721.2,963.3 737.6,968.0 755.3,968.6M700.0,961.5 720.0,961.5 721.2,963.3 720.6,991.5 731.8,992.1 731.8,1008.0M731.8,986.8 762.4,986.8 762.4,999.8 742.4,1006.8M762.4,986.8 776.5,982.1 781.2,980.9M762.4,999.8 791.8,994.5M792.9,959.2 818.8,959.2M792.9,973.3 818.8,973.3M792.9,987.4 818.8,987.4M792.9,1001.5 818.8,1001.5M815.9,945.1 815.9,1008.0M702.4,961.5 701.8,966.2 706.5,968.0 707.1,963.3M369.3,1008.0 371.1,1018.6 364.0,1023.0M395.8,1008.0 397.5,1024.8 388.7,1029.2 386.1,1034.5M397.5,1024.8 483.1,1023.9M390.5,1028.3 402.8,1036.2 399.3,1043.3M399.3,1043.3 441.6,1044.2 476.1,1044.2M439.9,1044.2 439.9,1069.8M402.8,1036.2 409.9,1024.8M461.1,1008.0 461.1,1023.9M514.9,1008.0 514.9,1087.4M484.0,1017.7 514.9,1015.9M514.9,1025.6 542.2,1029.2 545.8,1024.8 563.4,1024.8M489.3,1044.2 514.0,1045.9M544.9,1050.4 544.9,1074.2M544.9,1050.4 561.6,1050.4 561.6,1044.2 575.8,1044.2M514.9,1074.2 592.0,1074.2M559.9,1013.3 563.4,1024.8 568.7,1034.5 575.8,1044.2 583.7,1058.3 592.0,1052.1M559.9,1013.3 562.5,1010.6 572.2,1013.3 582.8,1016.8 584.6,1008.0M584.6,1008.0 584.6,1024.8 604.9,1025.6 604.9,1039.8 592.0,1044.2 592.0,1111.2M604.9,1025.6 608.4,1018.6 607.5,1008.0M604.9,1039.8 611.1,1042.4 618.1,1037.1 628.7,1033.6M618.1,1037.1 619.9,1055.6 625.2,1069.8 628.7,1075.9M592.0,1076.8 630.1,1076.8M566.9,1105.9 574.0,1099.8 592.0,1099.8M631.4,1051.2 661.4,1051.2 662.2,1043.3 664.0,1043.3M631.4,1065.4 635.8,1065.4 641.1,1072.4 660.5,1072.4 661.4,1051.2M643.7,1072.4 644.6,1094.5 652.5,1094.5 652.5,1097.1M632.2,1008.0 632.2,1012.4 664.0,1011.5M665.6,1008.0 665.6,1042.4M658.5,1043.3 701.8,1042.4 700.9,1008.0M658.5,1043.3 659.4,1052.1 640.0,1051.2M659.4,1052.1 662.9,1059.2 665.6,1070.6 677.1,1071.5 677.1,1096.2M677.1,1065.4 686.8,1065.4 702.6,1058.3 702.6,1042.4M702.6,1045.9 718.5,1045.9 720.3,1048.6 730.9,1048.6 730.9,1073.3 744.1,1073.3M702.6,1058.3 702.6,1090.1M700.9,1016.8 711.5,1017.7 714.1,1030.9 710.6,1037.1 702.6,1038.0M711.5,1017.7 731.8,1016.8 731.8,1008.0M742.4,1008.0 742.4,1090.1M731.8,1053.9 742.4,1053.0M744.1,1059.2 772.4,1059.2 772.4,1073.3 774.1,1090.1M743.2,1024.8 761.8,1025.6 771.5,1023.9 771.5,1034.5 775.0,1039.8 790.9,1039.8M767.9,1008.0 767.9,1023.9M774.1,1008.0 774.1,1015.1 818.2,1015.1M792.6,1030.9 818.2,1030.9M792.6,1045.1 818.2,1045.1M792.6,1059.2 818.2,1059.2M792.6,1073.3 818.2,1073.3M792.6,1088.3 818.2,1088.3M804.1,1015.1 804.1,1059.2M817.4,1015.1 817.4,1113.9M798.8,1088.3 798.8,1113.9M812.1,1088.3 812.1,1113.9M792.6,1102.4 818.2,1102.4M712.4,1090.9 713.2,1112.1M741.5,1090.9 742.4,1114.8M766.2,1090.9 764.4,1114.8"/>
</g>
<g fill="none" stroke="#000" stroke-width="2.1" stroke-linejoin="round">
<path d="M334.3,768.0 334.3,864.0 479.6,993.0M494.8,768.0 494.8,955.0 494.8,955.0 493.9,958.6 486.8,960.4 484.2,955.9 476.2,958.2 474.5,958.6 477.1,965.6 478.9,979.8 479.8,992.1 480.6,997.4 484.2,1008.0 490.2,1013.3 491.9,1016.0 487.5,1020.4 483.1,1023.9 477.8,1029.2 476.0,1043.3 477.8,1054.8 482.2,1061.0 480.5,1066.2 476.0,1068.9 474.3,1074.3M695.4,1097.2 695.4,1090.2 792.3,1090.2M494.8,928.6 820.0,928.6M575.8,768.0 575.8,799.4 820.0,799.4M629.9,799.4 629.9,1111.7M792.3,928.6 792.3,1090.2M792.3,944.8 820.0,944.8M818.9,799.4 818.9,928.6M767.0,1090.2 770.6,1094.5 779.4,1103.3 781.2,1108.6 791.8,1112.1 806.8,1115.0"/>
</g>
</g>
<g fill="none" stroke="#000" stroke-width="0.8" stroke-linejoin="round">
<path d="M412.5,1073.3 416.9,1082.1 422.2,1092.7 425.8,1096.2 424.0,1103.3 432.8,1114.8M469.0,1092.3 476.0,1098.0 473.4,1106.8 472.5,1114.8M476.0,1098.0 484.0,1101.5 489.3,1106.0 497.2,1102.4 505.2,1106.8 507.0,1112.0 521.0,1115.3M322.5,1025.0 326.0,1023.5 329.0,1027.0 325.0,1029.0 322.5,1025.0M331.0,1025.0 336.0,1023.5 340.0,1026.5 334.0,1028.5 331.0,1025.0M343.0,1025.5 347.0,1025.0 351.0,1026.5M372.0,1043.0 376.0,1042.4 380.8,1046.5 378.0,1048.6 373.5,1046.0 372.0,1043.0M345.5,1049.5 348.0,1049.0 349.9,1050.5 347.0,1051.2 345.5,1049.5M372.0,1057.4 374.5,1057.6 379.0,1063.0 377.5,1064.5 374.0,1061.0 372.0,1057.4M220.8,768.0 220.4,775.0 224.8,783.9 223.9,791.0 221.2,803.3 215.9,815.6 216.8,822.7 227.4,832.4 231.8,843.9 232.7,856.2 236.2,866.8 243.3,873.9 250.4,884.5 253.9,888.0 252.5,893.5 254.0,896.5 259.0,897.0 266.0,897.5 267.1,907.4 269.8,921.5 278.6,929.5 285.6,933.0 284.8,940.0 281.2,941.8 283.9,951.5 290.9,958.6 299.8,970.0 310.3,981.5 311.2,986.0 316.5,988.6 317.4,1003.0 318.1,1008.0 321.6,1010.6 342.8,1012.4 350.8,1016.8 356.9,1021.2 365.8,1023.0 372.8,1024.8 378.1,1032.7 383.4,1034.5 388.7,1038.9 399.3,1044.2 404.6,1050.4 408.1,1059.2 409.0,1068.0 412.5,1073.3"/>
</g>
<g font-family="Liberation Sans, sans-serif" fill="#1a1a1a" stroke="#1a1a1a" stroke-width="0.35" text-anchor="middle">
<text id="mt1" x="510" y="691" font-size="25.5" textLength="177" lengthAdjust="spacingAndGlyphs">Precipitation (in)</text>
<text id="mt2" x="509.5" y="721.7" font-size="25.5" textLength="269" lengthAdjust="spacingAndGlyphs">7/1/2018 – 7/31/2018</text>
</g>
<g stroke="#000" stroke-width="1.1" stroke-linejoin="miter">
<path fill="#8b0000" d="M236.0,1143.1 L282.5,1136.8 L282.5,1149.4z"/>
<rect fill="#c00000" x="282.50" y="1136.8" width="45.55" height="12.6"/>
<rect fill="#ff0000" x="328.05" y="1136.8" width="45.55" height="12.6"/>
<rect fill="#f08228" x="373.60" y="1136.8" width="45.55" height="12.6"/>
<rect fill="#e6af2d" x="419.15" y="1136.8" width="45.55" height="12.6"/>
<rect fill="#ebeb00" x="464.70" y="1136.8" width="45.55" height="12.6"/>
<rect fill="#64c864" x="510.25" y="1136.8" width="45.55" height="12.6"/>
<rect fill="#00a000" x="555.80" y="1136.8" width="45.55" height="12.6"/>
<rect fill="#0096ff" x="601.35" y="1136.8" width="45.55" height="12.6"/>
<rect fill="#8200dc" x="646.90" y="1136.8" width="45.55" height="12.6"/>
<rect fill="#a000c8" x="692.45" y="1136.8" width="45.55" height="12.6"/>
<path fill="#ff00ff" d="M738.0,1136.8 L784.2,1143.1 L738.0,1149.4z"/>
</g>
<g font-family="Liberation Sans, sans-serif" font-size="11" font-weight="bold" fill="#1a1a1a" text-anchor="middle">
<text x="282.0" y="1160.8">0.1</text>
<text x="327.6" y="1160.8">0.5</text>
<text x="373.1" y="1160.8">1</text>
<text x="418.6" y="1160.8">2</text>
<text x="464.2" y="1160.8">3</text>
<text x="509.8" y="1160.8">4</text>
<text x="555.3" y="1160.8">5</text>
<text x="600.8" y="1160.8">6</text>
<text x="646.4" y="1160.8">7</text>
<text x="692.0" y="1160.8">8</text>
<text x="737.5" y="1160.8">9</text>
</g>
<g font-family="Liberation Sans, sans-serif" font-size="16.5" fill="#333">
<text id="ft1" x="174.8" y="1187.8" textLength="331" lengthAdjust="spacingAndGlyphs">Generated 8/6/2018 at HPRCC using provisional data.</text>
<text id="ft2" x="659.5" y="1187.8" textLength="185.7" lengthAdjust="spacingAndGlyphs">NOAA Regional Climate Centers</text>
</g>
</svg>
</div>
</body></html>
